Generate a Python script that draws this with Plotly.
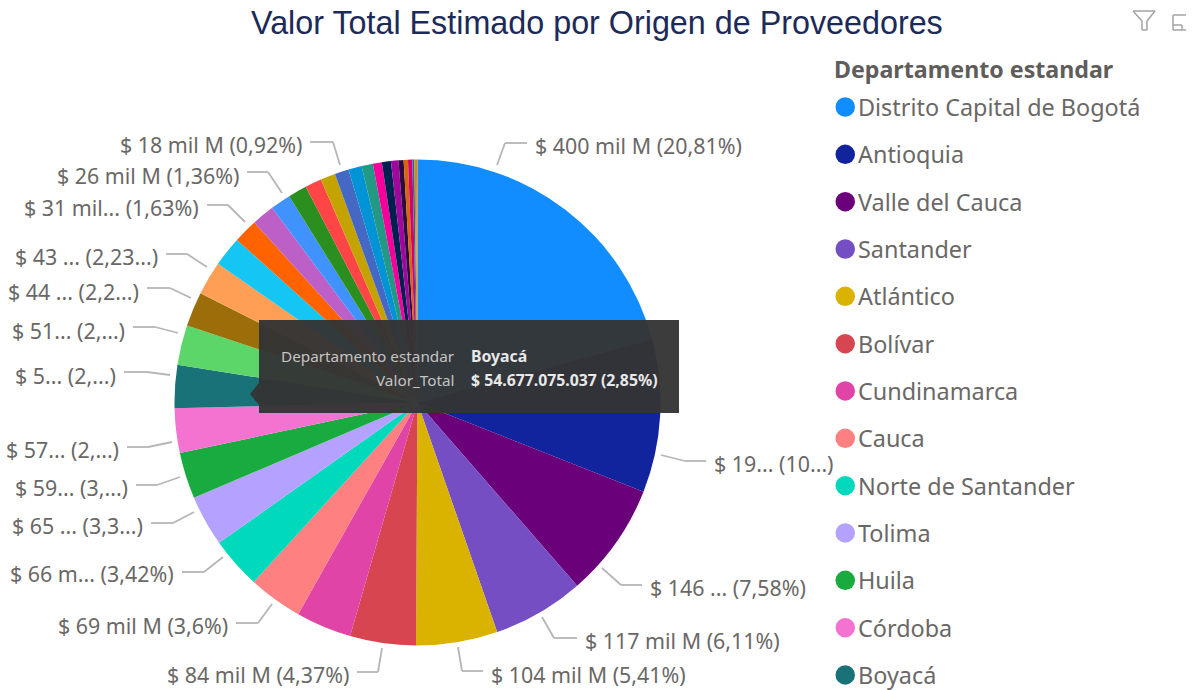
import plotly.graph_objects as go

W, H = 1195, 690

# ---- data ----
departments = ["Distrito Capital de Bogotá", "Antioquia", "Valle del Cauca", "Santander", "Atlántico",
               "Bolívar", "Cundinamarca", "Cauca", "Norte de Santander", "Tolima", "Huila", "Córdoba", "Boyacá",
               "Dep. 14", "Dep. 15", "Dep. 16", "Dep. 17", "Dep. 18", "Dep. 19", "Dep. 20", "Dep. 21",
               "Dep. 22", "Dep. 23", "Dep. 24", "Dep. 25", "Dep. 26", "Dep. 27", "Dep. 28", "Dep. 29",
               "Dep. 30", "Dep. 31", "Dep. 32", "Dep. 33", "Dep. 34", "Dep. 35"]
valor_mil_m = [400, 195, 146, 117, 104, 84, 71, 69, 66, 65, 59, 57, 54.677, 51, 44, 43, 38.5, 31, 29, 26,
               24, 21, 19, 18, 17, 14.5, 11.5, 11.5, 9.5, 6.5, 5.5, 5.5, 2.5, 2, 2]
colors = ["#118DFF", "#12239E", "#6B007B", "#744EC2", "#D9B300", "#D64550", "#E044A7", "#FF8080", "#00D9BB",
          "#B5A1FF", "#1AAB40", "#F472D0", "#197278", "#5CD668", "#9B6E0A", "#FF9F55", "#15C6F4", "#FF6300",
          "#BC5FC7", "#4092FF", "#2A8F1F", "#FF4545", "#C4A200", "#4668C5", "#0093D5", "#219985", "#F5009B",
          "#002050", "#A0089D", "#2D0A40", "#D9660A", "#D6006E", "#3060B0", "#B39B00", "#E08020"]
legend_title = "Departamento estandar"
legend_count = 13
chart_title = "Valor Total Estimado por Origen de Proveedores"
data_labels = ["$ 400 mil M (20,81%)", "$ 19... (10...)", "$ 146 ... (7,58%)", "$ 117 mil M (6,11%)",
               "$ 104 mil M (5,41%)", "$ 84 mil M (4,37%)", "$ 69 mil M (3,6%)", "$ 66 m... (3,42%)",
               "$ 65 ... (3,3...)", "$ 59... (3,...)", "$ 57... (2,...)", "$ 5... (2,...)", "$ 51... (2,...)",
               "$ 44 ... (2,2...)", "$ 43 ... (2,23...)", "$ 31 mil... (1,63%)", "$ 26 mil M (1,36%)",
               "$ 18 mil M (0,92%)"]
tooltip_rows = [("Departamento estandar", "Boyacá"), ("Valor_Total", "$ 54.677.075.037 (2,85%)")]

# ---- layout (pixels) ----
CX, CY, R = 417.5, 402.5, 243
leader_paths = [
    [(497, 165), (505, 143), (527, 143)], [(661, 455), (685, 461), (706, 461)], [(602, 568), (621, 585), (642, 585)],
    [(542, 617), (554, 638), (577, 638)], [(458, 647), (462, 671), (483, 671)], [(382, 648), (378, 672), (357, 672)],
    [(272, 604), (258, 623), (236, 623)], [(223, 557), (204, 572), (182, 572)], [(194, 512), (173, 523), (151, 523)],
    [(180, 477), (157, 485), (136, 485)], [(172, 442), (148, 447), (127, 447)], [(170, 375), (147, 372), (124, 372)],
    [(178, 333), (155, 327), (133, 327)], [(191, 298), (170, 288), (147, 288)], [(207, 267), (187, 254), (166, 254)],
    [(245, 222), (228, 205), (207, 205)], [(282, 193), (268, 172), (247, 172)], [(340, 165), (333, 142), (310, 142)],
]
label_y = [145, 463, 587, 640, 674, 674, 625, 573, 525, 487, 449, 375, 330, 291, 257, 207, 175, 144]
LEGEND_Y0, LEGEND_DY = 107, 47.33

def px(x): return x / W
def py(y): return 1 - y / H

UI_FONT = "Noto Sans"
TEXT = "#6A6866"
LINE = "#B8B6B4"

shapes, annotations = [], []

# leaders and their labels
for path, text, y in zip(leader_paths, data_labels, label_y):
    for (x0, y0), (x1, y1) in zip(path[:-1], path[1:]):
        shapes.append(dict(type="line", xref="paper", yref="paper", x0=px(x0), y0=py(y0), x1=px(x1), y1=py(y1),
                           line=dict(color=LINE, width=1.8)))
    right = path[-1][0] > path[0][0]
    annotations.append(dict(xref="paper", yref="paper", x=px(path[-1][0] + (6 if right else -6)), y=py(y),
                            xanchor="left" if right else "right", yanchor="middle", text=text, showarrow=False,
                            font=dict(family=UI_FONT, size=21.4, color=TEXT)))

# title
annotations.append(dict(xref="paper", yref="paper", x=px(597), y=py(23), xanchor="center", yanchor="middle",
                        text=chart_title, showarrow=False,
                        font=dict(family="Liberation Sans", size=32.3, color="#1C2A58")))

# legend
annotations.append(dict(xref="paper", yref="paper", x=px(832), y=py(69), xanchor="left", yanchor="middle",
                        text=f"<b>{legend_title}</b>", showarrow=False,
                        font=dict(family=UI_FONT, size=23.2, color="#5F5D5B")))
for i, (name, col) in enumerate(zip(departments[:legend_count], colors[:legend_count])):
    y = LEGEND_Y0 + i * LEGEND_DY
    shapes.append(dict(type="circle", xref="paper", yref="paper", x0=px(835.5), x1=px(855), y0=py(y - 9.75),
                       y1=py(y + 9.75), fillcolor=col, line=dict(width=0)))
    annotations.append(dict(xref="paper", yref="paper", x=px(856), y=py(y), xanchor="left", yanchor="middle",
                            text=name, showarrow=False, font=dict(family=UI_FONT, size=23.4, color=TEXT)))

# tooltip
TIP = "rgba(52,52,52,0.96)"
shapes.append(dict(type="rect", xref="paper", yref="paper", x0=px(259), x1=px(679), y0=py(320), y1=py(413),
                   fillcolor=TIP, line=dict(width=0), layer="above"))
shapes.append(dict(type="path", xref="paper", yref="paper",
                   path=f"M{px(259)},{py(383)} L{px(250)},{py(394)} L{px(259)},{py(405)} Z",
                   fillcolor=TIP, line=dict(width=0), layer="above"))
for (k, v), y in zip(tooltip_rows, [356, 380]):
    annotations.append(dict(xref="paper", yref="paper", x=px(457), y=py(y), xanchor="right", yanchor="middle",
                            text=k, showarrow=False, font=dict(family=UI_FONT, size=15.3, color="#C4C4C4")))
    annotations.append(dict(xref="paper", yref="paper", x=px(469), y=py(y), xanchor="left", yanchor="middle",
                            text=f"<b>{v}</b>", showarrow=False, font=dict(family=UI_FONT, size=15.8, color="#E8E8E8")))

# header icons
ICON = "#A3A3A3"
funnel = [(1133, 11), (1155, 11), (1147, 21), (1147, 30), (1142, 30), (1142, 21), (1133, 11)]
focus = [[(1186, 15), (1173, 15), (1173, 30), (1186, 30)], [(1173, 25), (1182, 25), (1182, 30)]]
for seg in [funnel] + focus:
    for (x0, y0), (x1, y1) in zip(seg[:-1], seg[1:]):
        shapes.append(dict(type="line", xref="paper", yref="paper", x0=px(x0), y0=py(y0), x1=px(x1), y1=py(y1),
                           line=dict(color=ICON, width=1.5)))

fig = go.Figure(go.Pie(
    labels=departments, values=valor_mil_m, sort=False, direction="clockwise", rotation=0,
    marker=dict(colors=colors, line=dict(width=0)), textinfo="none", hoverinfo="skip", showlegend=False,
    domain=dict(x=[px(CX - R), px(CX + R)], y=[py(CY + R), py(CY - R)]),
))
fig.update_layout(width=W, height=H, margin=dict(l=0, r=0, t=0, b=0), paper_bgcolor="white",
                  plot_bgcolor="white", showlegend=False, shapes=shapes, annotations=annotations)
fig.write_html("out.html", config=dict(displayModeBar=False),
               post_script="document.body.style.margin='0';document.body.style.overflow='hidden';")
